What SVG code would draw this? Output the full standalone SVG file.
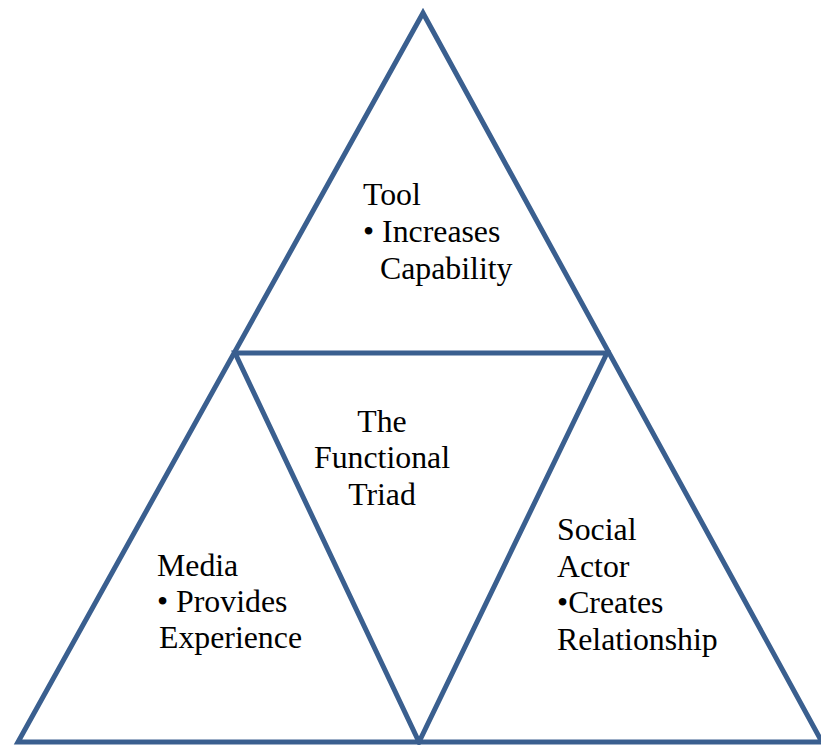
<svg xmlns="http://www.w3.org/2000/svg" width="821" height="745" viewBox="0 0 821 745">
<style>
.edge{fill:none;stroke:#3A5F8F;stroke-width:5;stroke-linejoin:miter}
.t{font-family:"Liberation Serif","Times New Roman",serif;font-size:31.8px;fill:#000}
</style>
<rect width="821" height="745" fill="#fff"/>
<g id="connectors">
<polygon class="edge" points="423,13 18,742 822,742"/>
<polygon class="edge" points="235,353 607,353 419,742"/>
</g>
<g id="tool">
<text class="t" x="363" y="205">Tool</text>
<text class="t" x="363" y="242">• Increases</text>
<text class="t" x="380" y="279">Capability</text>
</g>
<g id="triad">
<text class="t" x="382" y="432" text-anchor="middle">The</text>
<text class="t" x="382" y="468" text-anchor="middle">Functional</text>
<text class="t" x="382" y="505" text-anchor="middle">Triad</text>
</g>
<g id="media">
<text class="t" x="157" y="576">Media</text>
<text class="t" x="157" y="612">• Provides</text>
<text class="t" x="159" y="648">Experience</text>
</g>
<g id="social">
<text class="t" x="557" y="540">Social</text>
<text class="t" x="557" y="577">Actor</text>
<text class="t" x="557" y="613">•Creates</text>
<text class="t" x="557" y="650">Relationship</text>
</g>
</svg>
